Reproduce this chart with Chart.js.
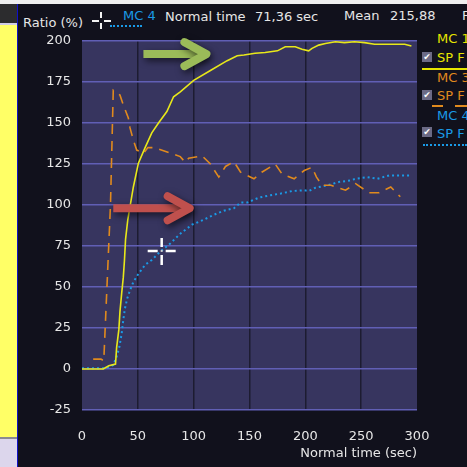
<!DOCTYPE html>
<html>
<head>
<meta charset="utf-8">
<script src="https://cdn.jsdelivr.net/npm/chart.js@4"></script>
<style>
html, body { margin:0; padding:0; width:467px; height:467px; overflow:hidden; background:#11111c; }
#wrap { position:absolute; left:0; top:0; width:467px; height:467px; }
.strip { position:absolute; left:0; width:17px; }
.txt { position:absolute; font:13px "DejaVu Sans"; line-height:15px; white-space:pre; color:#e6e6e6; }
.chk { position:absolute; left:422px; width:10px; height:10px; background:#6b6a85; color:#fff; font:bold 9px "DejaVu Sans"; line-height:10px; text-align:center; }
.bar { position:absolute; background:#f2f2f2; }
canvas { position:absolute; left:0; top:0; }
</style>
</head>
<body>
<div id="wrap">
  <div style="position:absolute;left:0;top:0;width:467px;height:4px;background:#efefef"></div>
  <div class="strip" style="top:4px;height:19px;background:#2c2c2e"></div>
  <div class="strip" style="top:23px;height:2px;background:#cfcce6"></div>
  <div class="strip" style="top:25px;height:412px;background:#ffff66"></div>
  <div class="strip" style="top:437px;height:2px;background:#8a8a90"></div>
  <div class="strip" style="top:439px;height:28px;background:#dcd6ec"></div>
  <div style="position:absolute;left:17px;top:4px;width:1px;height:463px;background:#1010c8"></div>

  <span class="txt" style="left:23px;top:15px">Ratio (%)</span>
  <div class="bar" style="left:92px;top:20px;width:7px;height:2px"></div>
  <div class="bar" style="left:104px;top:20px;width:7px;height:2px"></div>
  <div class="bar" style="left:100px;top:12px;width:2px;height:6px"></div>
  <div class="bar" style="left:100px;top:23px;width:2px;height:6px"></div>
  <div style="position:absolute;left:110px;top:25px;width:32px;height:0;border-top:2px dotted #1a9ae6"></div>
  <span class="txt" style="left:123px;top:8px;color:#1a9ae6">MC 4</span>
  <span class="txt" style="left:165px;top:9px">Normal time</span>
  <span class="txt" style="left:255px;top:9px">71,36 sec</span>
  <span class="txt" style="left:344px;top:8px">Mean</span>
  <span class="txt" style="left:390px;top:8px">215,88</span>
  <span class="txt" style="left:462px;top:8px">F</span>

  <span class="txt" style="left:437px;top:31px;color:#e6e600">MC 1</span>
  <div class="chk" style="top:52px">✔</div>
  <span class="txt" style="left:437px;top:50px;color:#e6e600">SP F</span>
  <div style="position:absolute;left:422px;top:68px;width:45px;height:2px;background:#e6e600"></div>
  <span class="txt" style="left:437px;top:70px;color:#e08a1e">MC 3</span>
  <div class="chk" style="top:90px">✔</div>
  <span class="txt" style="left:437px;top:88px;color:#e08a1e">SP F</span>
  <div style="position:absolute;left:432px;top:105px;width:11px;height:2px;background:#e08a1e"></div>
  <div style="position:absolute;left:455px;top:105px;width:12px;height:2px;background:#e08a1e"></div>
  <span class="txt" style="left:437px;top:108px;color:#1a9ae6">MC 4</span>
  <div class="chk" style="top:127px">✔</div>
  <span class="txt" style="left:437px;top:126px;color:#1a9ae6">SP F</span>
  <div style="position:absolute;left:423px;top:144px;width:44px;height:0;border-top:2px dotted #1a9ae6"></div>

  <canvas id="c" width="467" height="467"></canvas>
</div>
<script>
// MC 1 (yellow)
const mc1_t = [0, 19, 24, 30, 31, 33, 34, 35.5, 37, 38, 39, 41, 43, 46, 50.5, 56.5, 62.5, 68.5, 76, 82, 88, 100, 115, 130, 139, 145, 155, 164, 175, 182, 191, 197, 203, 206, 212, 218, 227, 235, 244, 253, 262, 289, 295];
const mc1_v = [0, 0, 2, 3, 13, 24, 35, 46, 56, 66, 79, 91, 99, 111, 125.5, 135, 144, 150, 157, 166, 169, 176, 182, 188, 191, 191.5, 192.5, 193, 194, 196.5, 196.5, 195, 194, 195.5, 197.5, 198.5, 199.5, 199, 199.5, 199, 198, 198, 197];

// MC 3 (orange, dashed)
const mc3_t = [10, 17, 19.5, 25.5, 28, 34, 37, 41.5, 43, 46, 49, 55, 59, 65, 88, 92.5, 95.5, 107.5, 115, 122.5, 128.5, 136, 142, 154, 161, 173, 179, 190, 199, 206, 210, 215, 223, 236, 245, 257, 266, 276.5, 285];
const mc3_v = [6, 6, 5, 100, 170, 167, 161, 153, 147, 139.5, 133.5, 131.5, 135, 135, 129.5, 126, 128.5, 130, 125, 117, 123.5, 126.5, 120, 116, 120, 125, 119, 116, 121, 123, 117, 112, 112, 109, 113, 107.5, 107.5, 111, 105];

// MC 4 (blue, dotted)
const mc4_t = [0, 20, 23.5, 28, 31, 33.5, 35.5, 37, 38.5, 40.5, 43, 46, 50.5, 56.5, 62.5, 70, 79, 88, 98.5, 109, 118, 127, 136, 142, 148, 158.5, 169, 178, 188, 199, 203, 209, 220, 230, 240.5, 245, 255.5, 264.5, 275, 295];
const mc4_v = [0.5, 0.5, 1, 2.5, 7.5, 13.5, 21.5, 30, 37, 43, 48, 53, 58, 63.5, 66.5, 71.5, 76.5, 82.5, 88, 91, 94, 96.5, 98, 101.5, 101.5, 104.5, 106, 107, 108.5, 109, 108.5, 110.5, 112, 114, 115, 116, 117, 116, 118, 118];

const xTicks = [0, 50, 100, 150, 200, 250, 300];
const yTicks = [-25, 0, 25, 50, 75, 100, 125, 150, 175, 200];

// cursor and the two arrows (data coordinates)
const cursor = {t: 71.36, v: 72};
const greenArrow = {from: 55, to: 115, v: 192};
const redArrow = {from: 28, to: 100, v: 98};

function pts(t, v) { return t.map((x, i) => ({x: x, y: v[i]})); }

const plotBg = {
  id: 'plotBg',
  beforeDraw(chart) {
    const a = chart.chartArea, ctx = chart.ctx;
    ctx.save();
    ctx.fillStyle = '#37355f';
    ctx.fillRect(a.left, a.top, a.right - a.left, a.bottom - a.top);
    ctx.restore();
  }
};

function arrow(ctx, x0, x1, y, color) {
  ctx.save();
  ctx.shadowColor = 'rgba(0,0,0,0.6)';
  ctx.shadowBlur = 7;
  ctx.shadowOffsetX = 2;
  ctx.shadowOffsetY = 3;
  ctx.strokeStyle = color;
  ctx.lineWidth = 8;
  ctx.lineCap = 'butt';
  ctx.beginPath();
  ctx.moveTo(x0, y);
  ctx.lineTo(x1 - 6, y);
  ctx.stroke();
  ctx.lineCap = 'round';
  ctx.lineJoin = 'round';
  ctx.beginPath();
  ctx.moveTo(x1 - 26, y - 12);
  ctx.lineTo(x1 - 4, y);
  ctx.lineTo(x1 - 26, y + 12);
  ctx.stroke();
  ctx.restore();
}

const marks = {
  id: 'marks',
  afterDatasetsDraw(chart) {
    const ctx = chart.ctx, xs = chart.scales.x, ys = chart.scales.y;
    arrow(ctx, xs.getPixelForValue(greenArrow.from), xs.getPixelForValue(greenArrow.to), ys.getPixelForValue(greenArrow.v), '#9bbb59');
    arrow(ctx, xs.getPixelForValue(redArrow.from), xs.getPixelForValue(redArrow.to), ys.getPixelForValue(redArrow.v), '#c0504d');
    // cursor cross
    const cx = xs.getPixelForValue(cursor.t), cy = ys.getPixelForValue(cursor.v);
    ctx.save();
    ctx.strokeStyle = '#ffffff';
    ctx.lineWidth = 2.5;
    ctx.beginPath();
    ctx.moveTo(cx - 14, cy); ctx.lineTo(cx - 4, cy);
    ctx.moveTo(cx + 4, cy); ctx.lineTo(cx + 14, cy);
    ctx.moveTo(cx, cy - 13); ctx.lineTo(cx, cy - 4);
    ctx.moveTo(cx, cy + 4); ctx.lineTo(cx, cy + 14);
    ctx.stroke();
    ctx.fillStyle = '#d0d0d0';
    ctx.fillRect(cx - 1, cy - 1, 2, 2);
    ctx.restore();
  }
};

const font = {family: 'DejaVu Sans', size: 13};

new Chart(document.getElementById('c'), {
  type: 'line',
  data: {
    datasets: [
      {label: 'MC 1', data: pts(mc1_t, mc1_v), borderColor: '#e8e81a', borderWidth: 1.6, pointRadius: 0, tension: 0},
      {label: 'MC 3', data: pts(mc3_t, mc3_v), borderColor: '#e08a1e', borderWidth: 1.6, borderDash: [10, 7], pointRadius: 0, tension: 0},
      {label: 'MC 4', data: pts(mc4_t, mc4_v), borderColor: '#1a9ae6', borderWidth: 2, borderDash: [2, 3], pointRadius: 0, tension: 0}
    ]
  },
  options: {
    responsive: false,
    animation: false,
    devicePixelRatio: 1,
    layout: {padding: {left: 18, top: 41, right: 50, bottom: 0}},
    plugins: {legend: {display: false}, tooltip: {enabled: false}},
    scales: {
      x: {
        type: 'linear', min: 0, max: 300,
        afterFit(s) { s.height = 57; },
        afterBuildTicks(s) { s.ticks = xTicks.map(v => ({value: v})); },
        border: {display: false},
        grid: {
          drawTicks: false, lineWidth: 1.5,
          color: c => (c.tick && (c.tick.value === 0 || c.tick.value === 300)) ? 'rgba(0,0,0,0)' : '#1d1c31'
        },
        ticks: {color: '#e6e6e6', font: font, padding: 19, maxRotation: 0, autoSkip: false},
        title: {display: true, text: 'Normal time (sec)', align: 'end', color: '#e6e6e6', font: font, padding: {top: 0, bottom: 6}}
      },
      y: {
        min: -25, max: 200,
        afterFit(s) { s.width = 64; },
        afterBuildTicks(s) { s.ticks = yTicks.map(v => ({value: v})); },
        border: {display: false},
        grid: {drawTicks: false, lineWidth: 1.5, color: '#615fb5'},
        ticks: {color: '#e6e6e6', font: font, padding: 11}
      }
    }
  },
  plugins: [plotBg, marks]
});
</script>
</body>
</html>
